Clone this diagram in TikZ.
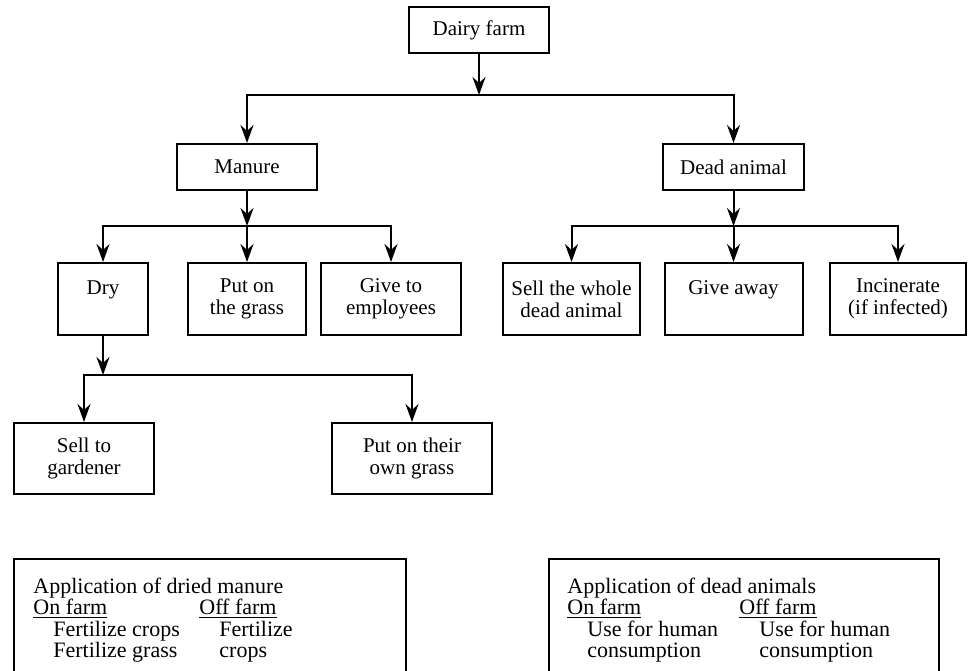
\documentclass[tikz,border=0pt]{standalone}
\usepackage{fontspec}
\setmainfont{Liberation Serif}
\usetikzlibrary{arrows.meta}

\tikzset{
  stage/.style={draw, line width=1pt, align=center, inner sep=0pt,
    font=\fontsize{10.5}{11}\selectfont},
  flow/.style={line width=1pt, -{Stealth[length=9pt,width=6.5pt,inset=3pt]}},
  panel/.style={draw, line width=1pt, anchor=north west, inner sep=0pt},
  note/.style={anchor=base west, inner sep=0pt, font=\fontsize{11}{10.4}\selectfont},
}

\begin{document}
\begin{tikzpicture}[x=0.5pt, y=-0.5pt]

    % Fix the page to the size of the figure
    \useasboundingbox (0,0) rectangle (968,670);

    % Draw the top box and the two main outputs
    \node[stage, minimum width=70pt, minimum height=23pt] (farm) at (479,30) {Dairy farm};
    \node[stage, minimum width=70pt, minimum height=23pt] (manure) at (247,167) {Manure};
    \node[stage, minimum width=70.5pt, minimum height=23pt] (dead) at (733.5,167) {Dead animal};

    % Split the farm into its two outputs
    \coordinate (farmsplit) at (479,95);
    \draw[flow] (farm.south) -- (farmsplit);
    \draw[flow] (farmsplit) -| (manure.north);
    \draw[flow] (farmsplit) -| (dead.north);

    % Draw what is done with the manure
    \node[stage, minimum width=45pt, minimum height=36pt] (dry) at (103,299) {Dry\\~};
    \node[stage, minimum width=59pt, minimum height=36pt] (grass) at (247,299) {Put on\\the grass};
    \node[stage, minimum width=70pt, minimum height=36pt] (staff) at (391,299) {Give to\\employees};

    \coordinate (manuresplit) at (247,226);
    \draw[flow] (manure.south) -- (manuresplit);
    \draw[flow] (manuresplit) -| (dry.north);
    \draw[flow] (manuresplit) -- (grass.north);
    \draw[flow] (manuresplit) -| (staff.north);

    % Draw what is done with a dead animal
    \node[stage, minimum width=68.5pt, minimum height=36pt] (sellwhole) at (571.5,299) {Sell the whole\\dead animal};
    \node[stage, minimum width=69pt, minimum height=36pt] (giveaway) at (733.5,299) {Give away\\~};
    \node[stage, minimum width=68pt, minimum height=36pt] (burn) at (898,299) {Incinerate\\(if infected)};

    \coordinate (deadsplit) at (733.5,226);
    \draw[flow] (dead.south) -- (deadsplit);
    \draw[flow] (deadsplit) -| (sellwhole.north);
    \draw[flow] (deadsplit) -- (giveaway.north);
    \draw[flow] (deadsplit) -| (burn.north);

    % Draw what is done with the dried manure
    \node[stage, minimum width=70pt, minimum height=35.5pt] (gardener) at (84,458.5) {Sell to\\gardener};
    \node[stage, minimum width=80pt, minimum height=35.5pt] (owngrass) at (412,458.5) {Put on their\\own grass};

    \coordinate (drysplit) at (103,375);
    \draw[flow] (dry.south) -- (drysplit);
    \draw[flow] (drysplit) -| (gardener.north);
    \draw[flow] (drysplit) -| (owngrass.north);

    % Draw the two panels, cut off by the bottom edge
    \begin{scope}
      \clip (0,0) rectangle (968,670);
      \node[panel, minimum width=196pt, minimum height=70pt] (drypanel) at (13,558) {};
      \node[panel, minimum width=195pt, minimum height=70pt] (deadpanel) at (548,558) {};
    \end{scope}

    % Fill in the panels
    \node[note] (drynote) at (33,593) {\begin{tabular}[t]{@{}p{83pt}@{}l@{}}
      \multicolumn{2}{@{}l@{}}{Application of dried manure}\\
      \underline{On farm} & \underline{Off farm}\\
      \hspace{10pt}Fertilize crops & \hspace{10pt}Fertilize\\
      \hspace{10pt}Fertilize grass & \hspace{10pt}crops
    \end{tabular}};
    \node[note] (deadnote) at (567,593) {\begin{tabular}[t]{@{}p{86pt}@{}l@{}}
      \multicolumn{2}{@{}l@{}}{Application of dead animals}\\
      \underline{On farm} & \underline{Off farm}\\
      \hspace{10pt}Use for human & \hspace{10pt}Use for human\\
      \hspace{10pt}consumption & \hspace{10pt}consumption
    \end{tabular}};

\end{tikzpicture}
\end{document}
